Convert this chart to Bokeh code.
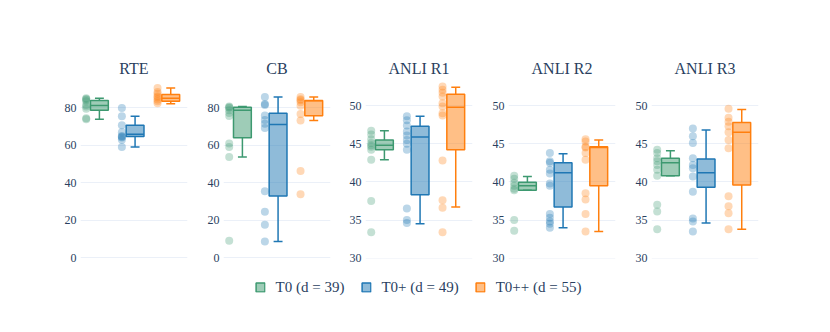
from bokeh.plotting import figure
from bokeh.layouts import row, column
from bokeh.models import Range1d, FixedTicker, Legend, LegendItem
from bokeh.embed import file_html
from bokeh.resources import INLINE

datasets = ["RTE", "CB", "ANLI R1", "ANLI R2", "ANLI R3"]
groups = ["T0 (d = 39)", "T0+ (d = 49)", "T0++ (d = 55)"]
colors = ["#3d9970", "#1f77b4", "#ff7f0e"]

# box statistics per group, one value per dataset
t0_q1 = [78.7, 64.1, 44.2, 38.9, 40.8]
t0_med = [81.3, 78.7, 44.8, 39.5, 42.5]
t0_q3 = [84.0, 80.4, 45.5, 39.95, 43.1]
t0_lo = [74.0, 53.8, 42.9, 38.9, 40.8]
t0_hi = [85.2, 80.7, 46.7, 40.7, 44.1]

t0p_q1 = [64.8, 33.0, 38.3, 36.7, 39.3]
t0p_med = [66.0, 71.2, 45.9, 41.2, 41.2]
t0p_q3 = [70.8, 77.2, 47.3, 42.5, 43.0]
t0p_lo = [59.1, 8.8, 34.5, 34.0, 34.6]
t0p_hi = [75.6, 85.8, 48.6, 43.7, 46.8]

t0pp_q1 = [83.5, 75.8, 44.2, 39.5, 39.6]
t0pp_med = [85.2, 83.8, 49.8, 44.5, 46.5]
t0pp_q3 = [87.2, 84.0, 51.5, 44.6, 47.8]
t0pp_lo = [82.2, 73.3, 36.7, 33.5, 33.8]
t0pp_hi = [90.6, 85.8, 52.4, 45.5, 49.5]

# individual runs per group, one list per dataset
t0_pts = [
    [85.2, 84.8, 84.3, 83.6, 81.5, 80.8, 79.5, 74.5, 74.0],
    [80.7, 80.4, 80.0, 78.7, 77.3, 75.7, 61.0, 59.2, 53.8, 9.1],
    [46.7, 46.2, 45.6, 45.1, 44.8, 44.6, 44.2, 42.9, 37.5, 33.4],
    [40.8, 40.4, 39.9, 39.5, 39.1, 38.9, 35.0, 33.6],
    [44.2, 43.8, 43.1, 42.7, 42.2, 41.6, 40.8, 37.0, 36.1, 33.8],
]
t0p_pts = [
    [80.0, 75.6, 70.8, 67.0, 65.0, 64.6, 64.2, 63.0, 59.1],
    [85.8, 82.1, 81.5, 75.9, 73.6, 71.5, 69.3, 35.5, 24.6, 17.7, 8.8],
    [48.6, 48.1, 47.4, 46.6, 46.1, 45.5, 45.0, 44.2, 36.5, 35.0, 34.6],
    [43.8, 42.7, 42.5, 41.6, 41.1, 39.8, 39.5, 35.8, 35.3, 34.8, 34.5, 34.0],
    [47.0, 46.0, 45.1, 43.1, 42.2, 41.8, 40.7, 38.7, 35.2, 34.8, 33.5],
]
t0pp_pts = [
    [90.6, 88.5, 87.5, 86.2, 85.5, 84.5, 83.5, 82.5],
    [85.8, 84.6, 84.1, 83.0, 81.1, 76.7, 73.3, 46.3, 33.9],
    [52.5, 52.1, 51.7, 51.2, 50.3, 49.9, 49.0, 48.7, 42.8, 37.6, 36.6, 33.4],
    [45.6, 45.3, 44.6, 44.5, 43.8, 42.9, 38.5, 37.7, 35.8, 33.5],
    [49.6, 48.4, 47.9, 47.3, 46.5, 45.5, 44.4, 38.1, 36.8, 35.9, 33.8],
]

y_ranges = [(-0.3, 94.6), (-0.3, 94.6), (29.95, 53.3), (29.95, 53.3), (29.95, 53.3)]
y_ticks = [[0, 20, 40, 60, 80], [0, 20, 40, 60, 80],
           [30, 35, 40, 45, 50], [30, 35, 40, 45, 50], [30, 35, 40, 45, 50]]

stats = [
    (t0_q1, t0_med, t0_q3, t0_lo, t0_hi, t0_pts),
    (t0p_q1, t0p_med, t0p_q3, t0p_lo, t0p_hi, t0p_pts),
    (t0pp_q1, t0pp_med, t0pp_q3, t0pp_lo, t0pp_hi, t0pp_pts),
]

FONT = "Liberation Serif"
TXT = "#2a3f5f"
GRID = "#ebf0f8"
borders_left = [80, 17, 17, 17, 17]
borders_right = [17, 16, 17, 17, 8]

BOX_OFF = 0.03
BOX_HALF = 0.25
CAP_HALF = 0.125
PT_OFF = -0.34

figs = []
for d, name in enumerate(datasets):
    p = figure(frame_width=107, frame_height=178,
               x_range=Range1d(-0.5, 2.5), y_range=Range1d(*y_ranges[d]),
               output_backend="svg", toolbar_location=None,
               min_border_left=borders_left[d], min_border_right=borders_right[d],
               min_border_top=80, min_border_bottom=10, title=name)
    p.title.align = "center"
    p.title.text_font = FONT
    p.title.text_font_size = "16px"
    p.title.text_font_style = "normal"
    p.title.text_color = TXT
    p.title.standoff = 7
    p.outline_line_color = None
    p.background_fill_color = "white"
    p.border_fill_color = "white"
    p.xaxis.visible = False
    p.xgrid.visible = False
    p.ygrid.grid_line_color = GRID
    p.ygrid.grid_line_width = 1
    p.yaxis.ticker = FixedTicker(ticks=y_ticks[d])
    p.yaxis.axis_line_color = None
    p.yaxis.major_tick_line_color = None
    p.yaxis.minor_tick_line_color = None
    p.yaxis.major_tick_out = 0
    p.yaxis.major_tick_in = 0
    p.yaxis.major_label_standoff = 4
    p.yaxis.major_label_text_font = FONT
    p.yaxis.major_label_text_font_size = "12px"
    p.yaxis.major_label_text_color = TXT

    for g in range(3):
        q1, med, q3, lo, hi, pts = stats[g]
        c = colors[g]
        xc = g + BOX_OFF
        # points
        ys = pts[d]
        p.scatter(x=[g + PT_OFF] * len(ys), y=ys, size=8, fill_color=c,
                  fill_alpha=0.3, line_color=None)
        # whiskers
        p.segment(x0=[xc, xc], y0=[q3[d], q1[d]], x1=[xc, xc], y1=[hi[d], lo[d]],
                  line_color=c, line_width=1.5)
        p.segment(x0=[xc - CAP_HALF, xc - CAP_HALF], y0=[hi[d], lo[d]],
                  x1=[xc + CAP_HALF, xc + CAP_HALF], y1=[hi[d], lo[d]],
                  line_color=c, line_width=1.5)
        # box
        p.quad(left=[xc - BOX_HALF], right=[xc + BOX_HALF], bottom=[q1[d]], top=[q3[d]],
               fill_color=c, fill_alpha=0.5, line_color=c, line_width=1.5)
        # median
        p.segment(x0=[xc - BOX_HALF], y0=[med[d]], x1=[xc + BOX_HALF], y1=[med[d]],
                  line_color=c, line_width=1.5)
    figs.append(p)

# legend strip
lf = figure(frame_width=700, frame_height=38, min_border_left=68, min_border_right=0,
            min_border_top=0, min_border_bottom=0,
            x_range=Range1d(0, 1), y_range=Range1d(0, 1),
            output_backend="svg", toolbar_location=None)
lf.axis.visible = False
lf.grid.visible = False
lf.outline_line_color = None
items = []
for g in range(3):
    r = lf.quad(left=[2], right=[3], bottom=[2], top=[3], fill_color=colors[g],
                fill_alpha=0.5, line_color=colors[g], line_width=1.5)
    items.append(LegendItem(label=groups[g], renderers=[r]))
leg = Legend(items=items, orientation="horizontal", location="center")
leg.glyph_width = 11
leg.glyph_height = 11
leg.label_standoff = 10
leg.spacing = 16
leg.padding = 0
leg.margin = 0
leg.border_line_color = None
leg.background_fill_alpha = 0
leg.label_text_font = FONT
leg.label_text_font_size = "15px"
leg.label_text_color = TXT
lf.add_layout(leg, "center")

layout = column(row(*figs), lf)
open("out.html", "w").write(file_html(layout, INLINE))
